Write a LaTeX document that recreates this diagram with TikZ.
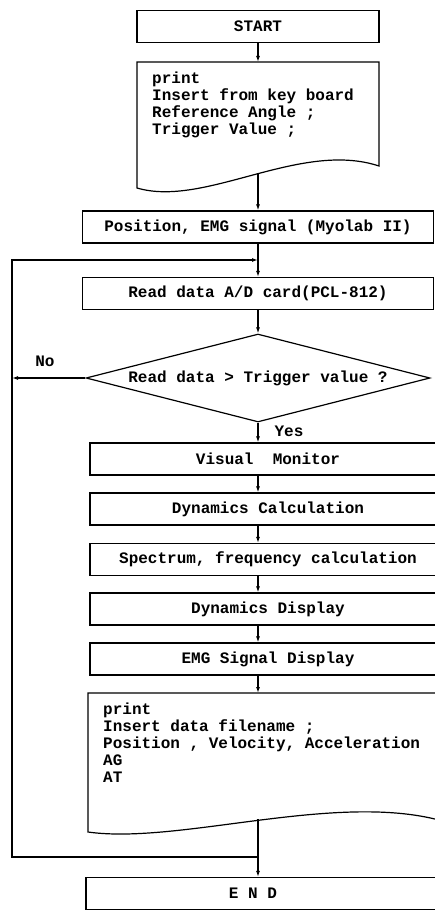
\documentclass[tikz,border=0pt]{standalone}
\usepackage{fontspec}
\setmonofont{Liberation Mono}
\usetikzlibrary{shapes.geometric,arrows.meta}
\tikzset{
  base/.style={font=\ttfamily\bfseries\fontsize{16}{17}\selectfont},
  box/.style={base, draw, line width=1.2pt, minimum height=32, inner sep=0pt},
  flow/.style={line width=1.2pt, -{Latex[length=6pt,width=4pt]}},
  wire/.style={line width=1.2pt},
}

\begin{document}
\begin{tikzpicture}[x=1pt, y=-1pt]
  \useasboundingbox (0,0) rectangle (435,912);
  \coordinate (spine) at (258,0);

  % Start and input sheet
  \node[box, minimum width=242] (start) at (258,26.5) {START};
  \draw[wire] (137,62) -- (379,62) -- (379,166)
    .. controls (300,140) and (205,208) .. (137,188) -- cycle;
  \node[base, align=left, anchor=north west, inner sep=0pt] (askin) at (152,72)
    {print\\Insert from key board\\Reference Angle ;\\Trigger Value ;};
  \coordinate (doc1in) at (258,62);
  \coordinate (doc1out) at (258,174);

  % Acquisition
  \node[box, minimum width=351] (posn) at (258,227) {Position, EMG signal (Myolab II)};
  \node[box, minimum width=351] (read) at (258,293.5) {Read data A/D card(PCL-812)};
  \node[base, draw, line width=1.2pt, shape=diamond, aspect=3.9, minimum width=344,
    minimum height=88, inner sep=0pt] (dec) at (258,378) {Read data > Trigger value ?};

  % Processing chain
  \node[box, minimum width=356] (vis) at (268,459) {Visual~~Monitor};
  \node[box, minimum width=356] (dcalc) at (268,509) {Dynamics Calculation};
  \node[box, minimum width=356] (spec) at (268,559.5) {Spectrum, frequency calculation};
  \node[box, minimum width=356] (ddisp) at (268,609) {Dynamics Display};
  \node[box, minimum width=356] (emg) at (268,659) {EMG Signal Display};

  % Output sheet
  \draw[wire] (88,693) -- (446,693) -- (446,822)
    .. controls (340,790) and (180,845) .. (88,832) -- cycle;
  \node[base, align=left, anchor=north west, inner sep=0pt] (saveout) at (103,703)
    {print\\Insert data filename ;\\Position , Velocity, Acceleration\\AG\\AT};
  \coordinate (doc2in) at (258,693);
  \coordinate (doc2out) at (258,819);

  \node[box, minimum width=360, label={[base, xshift=-13pt]center:E N D}] (fin) at (266,893.5) {};

  % Connectors
  \draw[flow] (start) -- (doc1in);
  \draw[flow] (doc1out) -- (posn);
  \draw[flow] (posn) -- (read);
  \draw[flow] (read) -- (dec);
  \draw[flow] (dec.south) -- (vis.north -| spine);
  \foreach \a/\b in {vis/dcalc, dcalc/spec, spec/ddisp, ddisp/emg}
    \draw[flow] (\a.south -| spine) -- (\b.north -| spine);
  \draw[flow] (emg.south -| spine) -- (doc2in);
  \draw[flow] (doc2out) -- (fin.north -| spine);

  % Loop back
  \coordinate (retlo) at (12,857);
  \coordinate (rethi) at (12,260);
  \draw[flow] (spine |- retlo) -- (retlo) -- (rethi) -- (spine |- rethi);
  \draw[flow] (dec.west) -- (dec.west -| retlo);
  \node[base] (no) at (45,361) {No};
  \node[base] (yes) at (289,431) {Yes};
\end{tikzpicture}
\end{document}
